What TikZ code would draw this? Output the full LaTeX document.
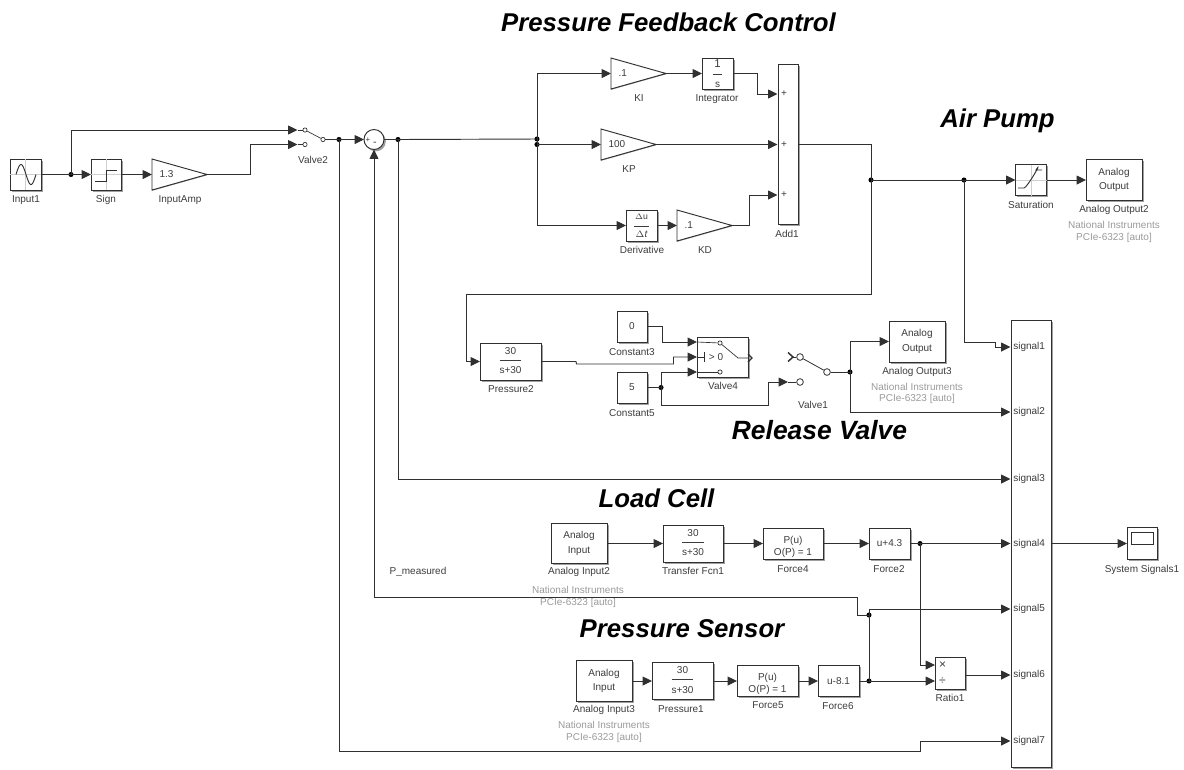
\documentclass[tikz,border=0pt]{standalone}
\usepackage{fontspec}
\setmainfont{Liberation Sans}
\usetikzlibrary{arrows.meta,shadows,calc}
\definecolor{linec}{HTML}{303030}
\definecolor{txtc}{HTML}{3C3C3C}
\definecolor{greyt}{HTML}{9A9A9A}
\definecolor{axisc}{HTML}{CFCFCF}
\newcommand{\ftx}{\fontsize{7.5pt}{9pt}\selectfont}
\newcommand{\ftitle}{\fontsize{19.3pt}{21pt}\selectfont\bfseries\itshape}
\newcommand{\lbl}[4]{\node[lab] (#1) at (#2,#3) {#4};}
\newcommand{\gry}[4]{\node[lab,text=greyt] (#1) at (#2,#3) {#4};}
\newcommand{\gain}[6]{%
  \node[gainbox,sz={#4}{#5}] (#1) at (#2,#3) {};
  \draw[black!40,line width=1.2pt,shift={(1pt,-1pt)}] (#1.east) -- (#1.south west);
  \draw[linec,line width=.7pt,fill=white] (#1.north west) -- (#1.east) -- (#1.south west) -- cycle;
  \node[lab,anchor=west] (#1t) at ([xshift=5.5pt]#1.west) {#6};}
\newcommand{\tfn}{\begin{tabular}{@{}c@{}}30\\[1.5pt]\hline\rule{0pt}{10pt}s+30\end{tabular}}
\tikzset{
  lab/.style={font=\ftx,text=txtc,inner sep=0pt},
  ttl/.style={font=\ftitle,text=black,inner sep=0pt},
  sz/.style 2 args={minimum width=#1*0.75pt,minimum height=#2*0.75pt},
  gainbox/.style={inner sep=0pt,outer sep=0pt},
  blk/.style={draw=linec,line width=.7pt,fill=white,inner sep=0pt,outer sep=0pt,align=center,font=\ftx,text=txtc,
     drop shadow={shadow xshift=1.4pt,shadow yshift=-1.4pt,fill=black!50,opacity=.75}},
  conn/.style={draw=linec,line width=.7pt,-{Triangle[length=7pt,width=6.6pt]}},
  wire/.style={draw=linec,line width=.7pt},
  dot/.style={circle,fill=black,inner sep=0pt,minimum size=3.8pt},
  port/.style={circle,draw=linec,line width=.5pt,fill=white,inner sep=0pt,minimum size=3.2pt},
  portb/.style={circle,draw=linec,line width=.6pt,fill=white,inner sep=0pt,minimum size=5pt},
  axis/.style={draw=axisc,line width=.4pt},
  icon/.style={draw=linec,line width=.7pt},
}
\begin{document}
\begin{tikzpicture}[x=0.75pt,y=-0.75pt]
\useasboundingbox (0,0) rectangle (1184,769);
% ---------- titles
\node[ttl] (tPF) at (668.5,22) {Pressure Feedback Control};
\node[ttl] (tAP) at (997.5,121) {Air Pump};
\node[ttl,font=\fontsize{19.8pt}{21pt}\selectfont\bfseries\itshape] (tRV) at (819.5,430) {Release Valve};
\node[ttl] (tLC) at (656.5,498) {Load Cell};
\node[ttl] (tPS) at (682,629) {Pressure Sensor};
% ---------- input section
\node[blk,sz={31}{31}] (Input1) at (25.5,174.5) {};
\draw[axis] (Input1.north) -- (Input1.south) (Input1.west) -- (Input1.east);
\draw[icon] plot[domain=0:360,samples=40] ({16+\x/360*20},{174.5-10*sin(\x)});
\lbl{lInput1}{26}{200}{Input1}
\node[blk,sz={30}{31}] (Sign) at (106,174.5) {};
\draw[axis] (Sign.north) -- (Sign.south) (Sign.west) -- (Sign.east);
\draw[icon] ($(Sign.center)+(-11,6.5)$) -- ++(11,0) -- ++(0,-11) -- ++(11,0);
\lbl{lSign}{106}{200}{Sign}
\gain{Amp}{179.5}{174.5}{55}{31}{1.3}
\lbl{lAmp}{180}{200}{InputAmp}
\node[dot] (j1) at (71,174.5) {};
\coordinate (v2a) at (297.5,130);
\coordinate (v2b) at (297.5,144.5);
\node[port] (v2p1) at (305,130) {};
\node[port] (v2p2) at (305,144.5) {};
\node[port] (v2p3) at (323,139.5) {};
\lbl{lV2}{313}{160}{Valve2}
\node[dot] (j2) at (339,139.5) {};
\node[blk,circle,minimum size=15pt] (Sum) at (374,139.5) {};
\node[lab,font=\fontsize{6pt}{6pt}\selectfont] (sp) at (368,140) {+};
\node[lab,font=\fontsize{8pt}{8pt}\selectfont] (sm) at (375,144) {-};
\node[dot] (j3) at (398,139.5) {};
% ---------- PID
\node[dot] (j4) at (537,139) {};
\node[dot] (j4b) at (537,144.5) {};
\gain{KI}{638.5}{73.5}{55}{31}{.1}
\lbl{lKI}{639}{98}{KI}
\node[blk,sz={31}{31}] (Integrator) at (717.5,73.5) {\fontsize{8.5pt}{9.5pt}\selectfont 1\\[-1pt]\rule[2.5pt]{7pt}{.5pt}\\[-2.5pt]s};
\lbl{lInt}{717}{99}{Integrator}
\gain{KP}{628.5}{144.5}{55}{31}{100}
\lbl{lKP}{629}{169}{KP}
\node[blk,sz={31}{31}] (Der) at (641.5,225.5) {\fontsize{6.5pt}{7pt}\selectfont $\Delta$u\\[-1.6pt]\rule[2pt]{11pt}{.4pt}\\[-3pt]$\Delta$\itshape t};
\lbl{lDer}{642}{250}{Derivative}
\gain{KD}{704.5}{225.5}{55}{31}{.1}
\lbl{lKD}{705}{250}{KD}
\node[blk,sz={20}{160}] (Add1) at (788,144.5) {};
\coordinate (a1) at (777.5,94);
\coordinate (a2) at (777.5,144.5);
\coordinate (a3) at (777.5,195);
\node[lab] (ap1) at (784,94) {+};
\node[lab] (ap2) at (784,144.5) {+};
\node[lab] (ap3) at (784,195) {+};
\lbl{lAdd}{787}{234}{Add1}
\node[dot] (j5) at (871,180) {};
\node[dot] (j6) at (964,180) {};
% ---------- air pump
\node[blk,sz={31}{31}] (Sat) at (1031,180) {};
\draw[axis] (Sat.north) -- (Sat.south) (Sat.west) -- (Sat.east);
\draw[icon] ($(Sat.center)+(-13,8)$) -- ++(6,0) .. controls +(3,0) and +(8,-12) .. ++(12,-18) -- ++(6,0);
\lbl{lSat}{1031}{205}{Saturation}
\node[blk,sz={56}{41}] (AO2) at (1114,180) {Analog\\[2pt]Output};
\lbl{lAO2}{1114}{210}{Analog Output2}
\gry{gAO2a}{1114}{225}{National Instruments}
\gry{gAO2b}{1114}{238}{PCIe-6323 [auto]}
% ---------- release valve
\node[blk,sz={61}{37}] (P2) at (510.5,361.5) {\tfn};
\lbl{lP2}{511}{389}{Pressure2}
\node[blk,sz={30}{31}] (C3) at (632,326.5) {0};
\lbl{lC3}{632}{352}{Constant3}
\node[blk,sz={30}{31}] (C5) at (632,387.5) {5};
\lbl{lC5}{632}{413}{Constant5}
\node[blk,sz={51}{40}] (V4) at (722.5,357) {};
\lbl{lV4}{723}{386}{Valve4}
\coordinate (v4a) at (697,342);
\coordinate (v4b) at (697,357);
\coordinate (v4c) at (697,372);
\node[port] (v4p1) at (720,343) {};
\node[port] (v4p2) at (720,372) {};
\coordinate (v4m) at (738,358);
\node[lab] (v4t) at (716,357) {> 0};
\draw[wire,line width=.5pt] (v4a) -- (v4p1) -- (v4m) -- (V4.east |- v4m);
\draw[wire,line width=.5pt] (v4c) -- (v4p2);
\draw[wire,line width=.5pt] (v4b) -- ++(7,0) ++(0,-5) -- ++(0,10);
\draw[linec,line width=1pt] ($(V4.east |- v4m)+(0,-4)$) -- ++(4,4) -- ++(-4,4);
\node[dot] (j11) at (661,387.5) {};
\coordinate (v1b) at (788,382);
\coordinate (v1chev) at (788,357);
\node[portb] (v1p1) at (800,357) {};
\node[portb] (v1p2) at (800,382) {};
\node[portb] (v1p3) at (827,372) {};
\lbl{lV1}{813}{405}{Valve1}
\node[dot] (j12) at (850,372) {};
\node[blk,sz={56}{41}] (AO3) at (917,341.5) {Analog\\[2pt]Output};
\lbl{lAO3}{917}{372}{Analog Output3}
\gry{gAO3a}{917}{387}{National Instruments}
\gry{gAO3b}{917}{399}{PCIe-6323 [auto]}
% ---------- bus
\node[blk,sz={40}{447}] (Bus) at (1031,543.5) {};
\coordinate (s1) at (1010.5,347);
\coordinate (s2) at (1010.5,412);
\coordinate (s3) at (1010.5,479);
\coordinate (s4) at (1010.5,543.5);
\coordinate (s5) at (1010.5,609);
\coordinate (s6) at (1010.5,675);
\coordinate (s7) at (1010.5,741);
\node[lab,anchor=west] (ls1) at (1013,347) {signal1};
\node[lab,anchor=west] (ls2) at (1013,412) {signal2};
\node[lab,anchor=west] (ls3) at (1013,479) {signal3};
\node[lab,anchor=west] (ls4) at (1013,544) {signal4};
\node[lab,anchor=west] (ls5) at (1013,609) {signal5};
\node[lab,anchor=west] (ls6) at (1013,675) {signal6};
\node[lab,anchor=west] (ls7) at (1013,741) {signal7};
\node[blk,sz={30}{32}] (Scope) at (1142,543.5) {};
\node[draw=linec,line width=.5pt,sz={22}{12},inner sep=0pt] (ScopeS) at (1142,538) {};
\lbl{lScope}{1142}{570}{System Signals1}
% ---------- load cell
\node[blk,sz={56}{40}] (AI2) at (579,543.5) {Analog\\[2pt]Input};
\lbl{lAI2}{579}{572}{Analog Input2}
\gry{gAI2a}{578}{590}{National Instruments}
\gry{gAI2b}{578}{603}{PCIe-6323 [auto]}
\node[blk,sz={60}{37}] (TF1) at (693,543.5) {\tfn};
\lbl{lTF1}{693}{571}{Transfer Fcn1}
\node[blk,sz={60}{31}] (F4) at (793,543.5) {};
\node[lab,align=center] (F4t) at (793,546.5) {P(u)\\O(P) = 1};
\lbl{lF4}{793}{569}{Force4}
\node[blk,sz={41}{31}] (F2) at (889.5,543.5) {u+4.3};
\lbl{lF2}{889}{569}{Force2}
\node[dot] (j10) at (920,543.5) {};
\lbl{lPm}{418}{572}{P\_measured}
% ---------- pressure sensor
\node[blk,sz={56}{41}] (AI3) at (604,681) {Analog\\[2pt]Input};
\lbl{lAI3}{604}{710}{Analog Input3}
\gry{gAI3a}{604}{725}{National Instruments}
\gry{gAI3b}{604}{738}{PCIe-6323 [auto]}
\node[blk,sz={61}{37}] (P1) at (682.5,681) {\tfn};
\lbl{lP1}{681}{709}{Pressure1}
\node[blk,sz={61}{31}] (F5) at (767.5,681) {};
\node[lab,align=center] (F5t) at (767.5,684) {P(u)\\O(P) = 1};
\lbl{lF5}{768}{705}{Force5}
\node[blk,sz={41}{31}] (F6) at (838.5,681) {u-8.1};
\lbl{lF6}{838}{706}{Force6}
\node[dot] (j8) at (869,615) {};
\node[dot] (j9) at (869,681) {};
\node[blk,sz={30}{32}] (Ratio) at (950,673) {};
\coordinate (r1) at (935,665);
\coordinate (r2) at (935,681);
\node[lab,font=\fontsize{9pt}{9pt}\selectfont] (rm) at (942.5,665) {×};
\node[lab,font=\fontsize{9pt}{9pt}\selectfont] (rd) at (942.5,681) {÷};
\lbl{lRatio}{950}{698}{Ratio1}
% ---------- connectors
\draw[conn] (Input1.east) -- (Sign.west);
\draw[conn] (j1.center) |- (v2a);
\draw[conn] (Sign.east) -- (Amp.west);
\draw[conn] (Amp.east) -- ++(43,0) |- (v2b);
\draw[wire,line width=.5pt] (v2a) -- (v2p1);
\draw[wire,line width=.5pt] (v2b) -- (v2p2);
\draw[wire,line width=.5pt] (v2p1) -- (v2p3);
\draw[wire] (v2p3) -- (j2.center);
\draw[conn] (j2.center) -- (Sum.west);
\draw[wire] (Sum.east) -- (j3.center);
\draw[wire] (j3.center) -- (j4.center);
\draw[conn] (j3.center) |- (s3);
\draw[conn] (j4.center) |- (KI.west);
\draw[wire] (j4.center) -- (j4b.center);
\draw[conn] (j4b.center) -- (KP.west);
\draw[conn] (j4b.center) |- (Der.west);
\draw[conn] (KI.east) -- (Integrator.west);
\draw[conn] (Integrator.east) -- ++(24,0) |- (a1);
\draw[conn] (KP.east) -- (a2);
\draw[conn] (Der.east) -- (KD.west);
\draw[conn] (KD.east) -- ++(17,0) |- (a3);
\draw[wire] (Add1.east) -| (j5.center);
\draw[wire] (j5.center) -- (j6.center);
\draw[conn] (j6.center) -- (Sat.west);
\draw[conn] (Sat.east) -- (AO2.west);
\draw[conn] (j6.center) -- ++(0,162) -- ++(31,0) |- (s1);
\draw[conn] (j5.center) -- ++(0,114) -- ++(-405,0) |- (P2.west);
\draw[conn] (P2.east) -- ++(35,0) -- ++(.5,2.5) -- ++(97,0) |- (v4b);
\draw[conn] (C3.east) -- ++(15,0) |- (v4a);
\draw[wire] (C5.east) -- (j11.center);
\draw[conn] (j11.center) |- (v4c);
\draw[conn] (j11.center) -- ++(0,17.5) -- ++(107,0) |- (v1b);
\draw[wire,line width=.6pt] (v1b) -- (v1p2);
\draw[linec,line width=1.1pt] ($(v1chev)+(0,-4.5)$) -- ++(5,4.5) -- ++(-5,4.5);
\draw[wire,line width=.6pt] ($(v1chev)+(5,0)$) -- (v1p1);
\draw[wire,line width=.6pt] (v1p1) -- (v1p3);
\draw[wire] (v1p3) -- (j12.center);
\draw[conn] (j12.center) |- (AO3.west);
\draw[conn] (j12.center) |- (s2);
\draw[conn] (AI2.east) -- (TF1.west);
\draw[conn] (TF1.east) -- (F4.west);
\draw[conn] (F4.east) -- (F2.west);
\draw[conn] (F2.east) -- (s4);
\draw[conn] (Bus.east) -- (Scope.west);
\draw[conn] (j10.center) |- (r1);
\draw[conn] (AI3.east) -- (P1.west);
\draw[conn] (P1.east) -- (F5.west);
\draw[conn] (F5.east) -- (F6.west);
\draw[wire] (F6.east) -- (j9.center);
\draw[conn] (j9.center) -- (r2);
\draw[wire] (j9.center) -- (j8.center);
\draw[conn] (j8.center) |- (s5);
\draw[conn] (Ratio.east |- s6) -- (s6);
\draw[conn] (j8.center) -- ++(-12,0) -- ++(0,-18) -| (Sum.south);
\draw[conn] (j2.center) -- ++(0,611.5) -- ++(581,0) |- (s7);
\end{tikzpicture}
\end{document}
